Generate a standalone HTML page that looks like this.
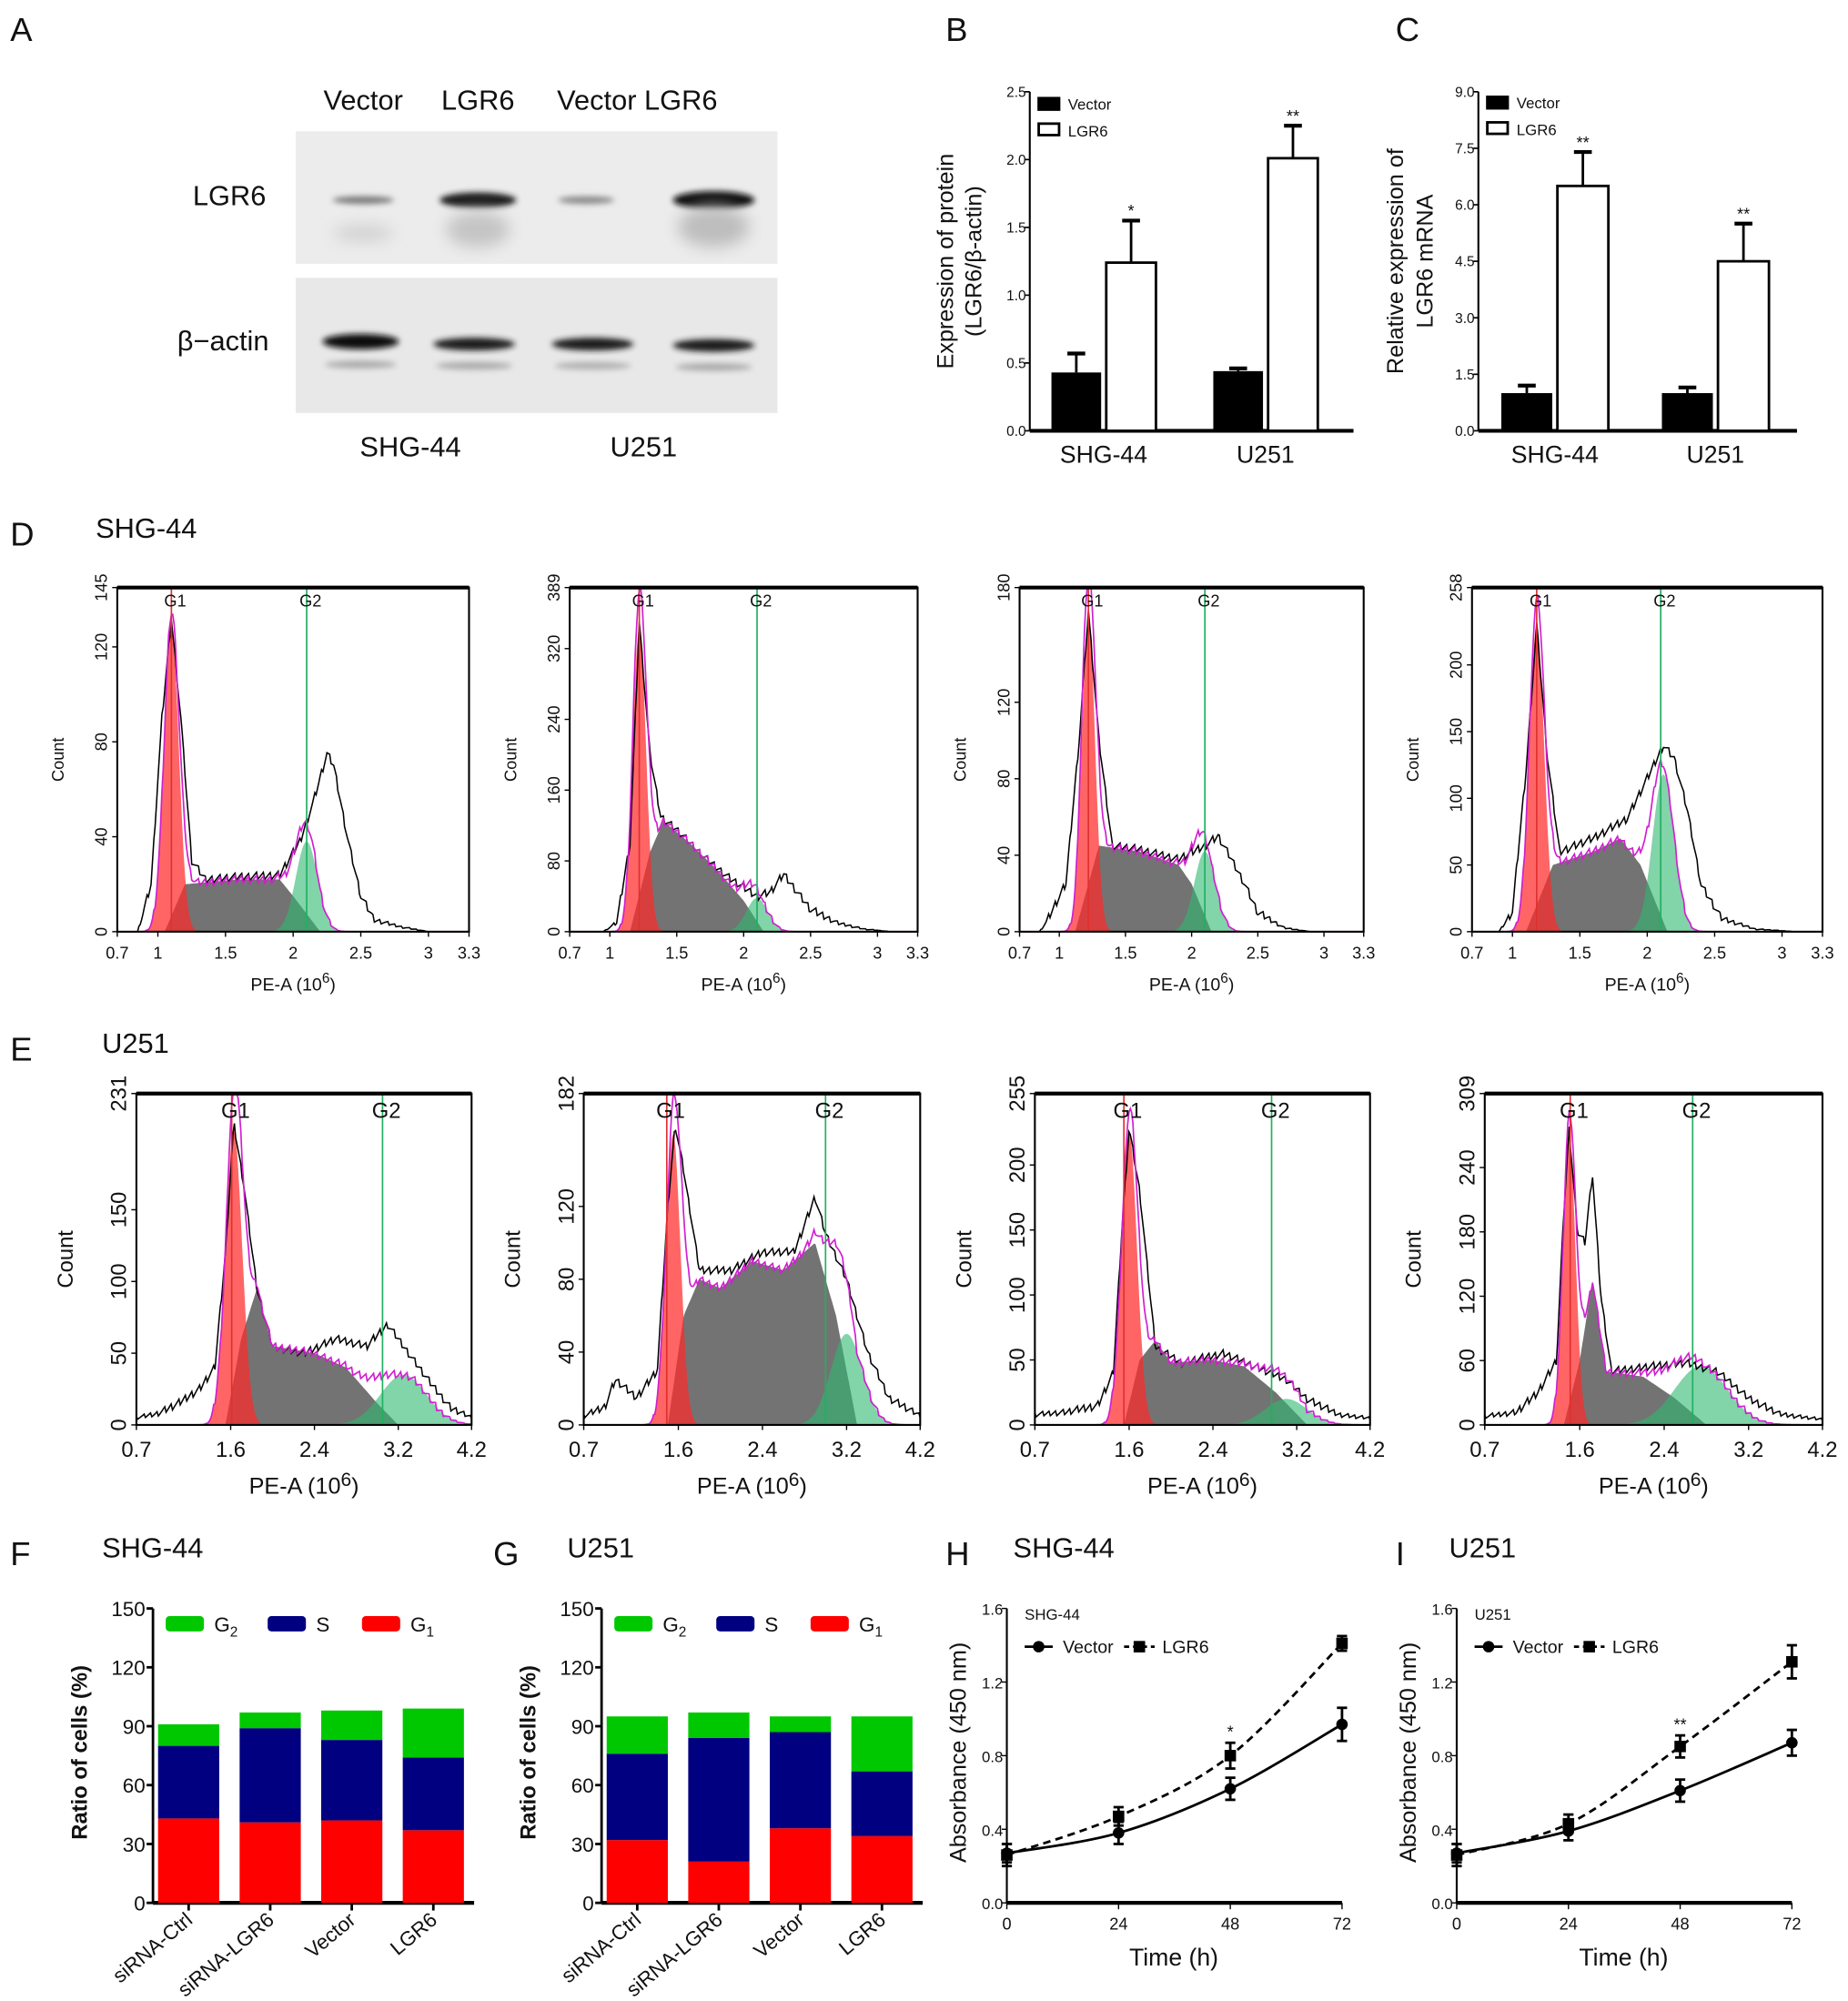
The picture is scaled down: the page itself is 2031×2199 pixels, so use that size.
<!DOCTYPE html>
<html><head><meta charset="utf-8"><style>
html,body{margin:0;padding:0;background:#fff}
svg{display:block}
text{font-family:"Liberation Sans",sans-serif;fill:#111}
</style></head><body>
<svg id="fig" xmlns="http://www.w3.org/2000/svg" width="2031" height="2199" viewBox="0 0 1450 1570">
<defs>
<filter id="blur2" x="-50%" y="-50%" width="200%" height="200%"><feGaussianBlur stdDeviation="2.2"/></filter>
<filter id="blur6" x="-50%" y="-50%" width="200%" height="200%"><feGaussianBlur stdDeviation="6"/></filter>
</defs>
<g>
<text x="8" y="32" font-size="26">A</text>
<text x="285" y="86" font-size="22" text-anchor="middle">Vector</text>
<text x="375" y="86" font-size="22" text-anchor="middle">LGR6</text>
<text x="500" y="86" font-size="22" text-anchor="middle">Vector LGR6</text>
<rect x="232" y="103" width="378" height="104" fill="#ececec"/>
<rect x="232" y="218" width="378" height="106" fill="#e8e8e8"/>
<g filter="url(#blur2)">
<ellipse cx="285" cy="157" rx="24" ry="3" fill="#777"/>
<ellipse cx="375" cy="157" rx="30" ry="6" fill="#1a1a1a"/>
<ellipse cx="460" cy="157" rx="22" ry="3" fill="#888"/>
<ellipse cx="560" cy="157" rx="32" ry="7" fill="#111"/>
<ellipse cx="283" cy="268" rx="30" ry="6" fill="#111"/>
<ellipse cx="372" cy="270" rx="32" ry="5" fill="#1a1a1a"/>
<ellipse cx="465" cy="270" rx="32" ry="5" fill="#1a1a1a"/>
<ellipse cx="560" cy="271" rx="32" ry="5" fill="#1a1a1a"/>
<ellipse cx="283" cy="286" rx="28" ry="3" fill="#aaa"/>
<ellipse cx="372" cy="287" rx="30" ry="3" fill="#aaa"/>
<ellipse cx="465" cy="287" rx="30" ry="3" fill="#b0b0b0"/>
<ellipse cx="560" cy="288" rx="30" ry="3" fill="#aaa"/>
</g>
<g filter="url(#blur6)">
<ellipse cx="285" cy="183" rx="24" ry="6" fill="#cfcfcf"/>
<ellipse cx="375" cy="180" rx="25" ry="14" fill="#c4c4c4"/>
<ellipse cx="560" cy="178" rx="28" ry="16" fill="#bdbdbd"/>
</g>
<text x="180" y="161" font-size="22" text-anchor="middle">LGR6</text>
<text x="175" y="275" font-size="22" text-anchor="middle">β−actin</text>
<text x="322" y="358" font-size="22" text-anchor="middle">SHG-44</text>
<text x="505" y="358" font-size="22" text-anchor="middle">U251</text>
</g>
<g id="dyn"></g>
</svg>
<script>
const bCats = ["SHG-44", "U251"];
const bVector = [0.43, 0.44];
const bVectorErr = [0.14, 0.02];
const bLgr6 = [1.24, 2.01];
const bLgr6Err = [0.31, 0.24];
const bSig = ["*", "**"];
const bTicks = [0, 0.5, 1.0, 1.5, 2.0, 2.5];
const cCats = ["SHG-44", "U251"];
const cVector = [1.0, 1.0];
const cVectorErr = [0.2, 0.15];
const cLgr6 = [6.5, 4.5];
const cLgr6Err = [0.9, 1.0];
const cSig = ["**", "**"];
const cTicks = [0, 1.5, 3.0, 4.5, 6.0, 7.5, 9.0];
const dXTicks = [0.7, 1, 1.5, 2, 2.5, 3, 3.3];
const dXTickLabels = ["0.7", "1", "1.5", "2", "2.5", "3", "3.3"];
const dYMax = [145, 389, 180, 258];
const dYTicks = [[0,40,80,120],[0,80,160,240,320],[0,40,80,120],[0,50,100,150,200]];
const dGateG1 = [1.1, 1.22, 1.22, 1.18];
const dGateG2 = [2.1, 2.1, 2.1, 2.1];
const dG1 = [[1.1,0.055,128],[1.22,0.05,345],[1.22,0.05,165],[1.18,0.055,230]];
const dG2 = [[2.1,0.08,38],[2.1,0.08,38],[2.1,0.08,42],[2.12,0.08,118]];
const dS = [
 [[1.05,0],[1.2,20],[1.6,22],[1.9,22],[2.0,15],[2.2,0]],
 [[1.15,0],[1.3,90],[1.4,125],[1.6,100],[1.8,70],[2.0,35],[2.15,0]],
 [[1.12,0],[1.3,45],[1.6,42],[1.9,35],[2.0,25],[2.15,0]],
 [[1.1,0],[1.3,50],[1.6,60],[1.8,70],[1.95,50],[2.15,0]]];
const dRaw = [
 [[0.85,0],[0.95,20],[1.03,90],[1.1,132],[1.17,90],[1.25,30],[1.35,22],[1.6,23],[1.9,24],[2.05,38],[2.15,55],[2.25,75],[2.3,70],[2.4,40],[2.5,15],[2.6,5],[2.8,2],[3.0,0]],
 [[0.95,0],[1.05,10],[1.15,100],[1.22,350],[1.3,200],[1.38,130],[1.5,115],[1.7,85],[1.9,60],[2.0,50],[2.1,40],[2.2,45],[2.3,65],[2.4,45],[2.5,25],[2.7,10],[2.9,3],[3.1,0]],
 [[0.85,0],[0.9,5],[1.05,25],[1.15,100],[1.22,168],[1.3,100],[1.4,45],[1.6,43],[1.9,38],[2.1,45],[2.2,50],[2.3,38],[2.4,25],[2.5,10],[2.7,2],[2.9,0]],
 [[0.9,0],[1.0,15],[1.1,120],[1.18,230],[1.26,130],[1.35,60],[1.6,70],[1.85,85],[2.0,115],[2.12,140],[2.2,130],[2.3,90],[2.4,35],[2.55,10],[2.8,2],[3.1,0]]];
const eXTicks = [0.7, 1.6, 2.4, 3.2, 3.9];
const eXTickLabels = ["0.7", "1.6", "2.4", "3.2", "4.2"];
const eYMax = [231, 182, 255, 309];
const eYTicks = [[0,50,100,150],[0,40,80,120],[0,50,100,150,200],[0,60,120,180,240]];
const eGateG1 = [1.61, 1.49, 1.55, 1.51];
const eGateG2 = [3.05, 3.0, 2.96, 2.67];
const eG1 = [[1.63,0.08,205],[1.55,0.07,160],[1.6,0.075,225],[1.5,0.06,270]];
const eG2 = [[3.25,0.22,35],[3.2,0.15,50],[3.1,0.2,20],[2.75,0.25,55]];
const eS = [
 [[1.55,0],[1.7,60],[1.85,95],[2.0,55],[2.4,50],[2.7,40],[3.0,15],[3.2,0]],
 [[1.5,0],[1.65,60],[1.8,80],[2.0,75],[2.3,90],[2.6,85],[2.9,100],[3.1,60],[3.3,0]],
 [[1.55,0],[1.7,50],[1.85,65],[2.0,48],[2.4,50],[2.7,45],[3.0,25],[3.3,0]],
 [[1.45,0],[1.6,60],[1.72,135],[1.85,50],[2.2,45],[2.5,25],[2.8,0]]];
const eRaw = [
 [[0.7,5],[0.9,8],[1.1,15],[1.3,25],[1.45,40],[1.55,120],[1.63,210],[1.72,170],[1.85,95],[2.0,55],[2.3,50],[2.6,60],[2.9,55],[3.1,70],[3.3,50],[3.5,30],[3.7,12],[3.9,5]],
 [[0.7,5],[0.9,10],[1.0,25],[1.2,15],[1.4,30],[1.5,120],[1.57,165],[1.65,140],[1.8,85],[2.1,85],[2.4,95],[2.7,95],[2.9,125],[3.0,105],[3.2,80],[3.4,40],[3.6,15],[3.9,5]],
 [[0.7,8],[1.0,10],[1.3,15],[1.45,40],[1.53,150],[1.6,228],[1.7,180],[1.85,60],[2.1,48],[2.5,55],[2.8,45],[3.1,35],[3.3,20],[3.6,8],[3.9,5]],
 [[0.7,8],[1.0,12],[1.2,30],[1.38,60],[1.45,200],[1.5,275],[1.58,180],[1.65,170],[1.72,235],[1.8,120],[1.9,50],[2.3,55],[2.6,58],[2.9,50],[3.2,25],[3.5,10],[3.9,5]]];
const phaseCats = ["siRNA-Ctrl", "siRNA-LGR6", "Vector", "LGR6"];
const phaseTicks = [0, 30, 60, 90, 120, 150];
const fG1 = [43, 41, 42, 37];
const fS = [37, 48, 41, 37];
const fG2 = [11, 8, 15, 25];
const gG1 = [32, 21, 38, 34];
const gS = [44, 63, 49, 33];
const gG2 = [19, 13, 8, 28];
const timePts = [0, 24, 48, 72];
const absTicks = [0.0, 0.4, 0.8, 1.2, 1.6];
const hVector = [0.27, 0.38, 0.62, 0.97];
const hVectorErr = [0.05, 0.06, 0.06, 0.09];
const hLgr6 = [0.26, 0.47, 0.80, 1.41];
const hLgr6Err = [0.06, 0.05, 0.07, 0.04];
const iVector = [0.27, 0.39, 0.61, 0.87];
const iVectorErr = [0.05, 0.05, 0.06, 0.07];
const iLgr6 = [0.26, 0.43, 0.85, 1.31];
const iLgr6Err = [0.06, 0.05, 0.06, 0.09];

const NS = "http://www.w3.org/2000/svg";
const root = document.getElementById("dyn");
function mk(tag, attrs, parent) {
  const el = document.createElementNS(NS, tag);
  for (const k in attrs) el.setAttribute(k, attrs[k]);
  (parent || root).appendChild(el);
  return el;
}
function txt(x, y, s, size, parent, anchor, rot) {
  const t = mk("text", {x: x, y: y, "font-size": size, "text-anchor": anchor || "middle"}, parent);
  if (rot) t.setAttribute("transform", "rotate(" + rot + " " + x + " " + y + ")");
  t.textContent = s;
  return t;
}
function linScale(d0, d1, r0, r1) { return v => r0 + (v - d0) / (d1 - d0) * (r1 - r0); }

function barChart(o) {
  const g = mk("g", {});
  
  
  const y = linScale(0, o.max, o.y0, o.yTop);
  const lbl = txt(o.labelX, 32, o.letter, 26, g, "start");
  
  
  mk("line", {x1: o.ax, y1: o.yTop, x2: o.ax, y2: o.y0, stroke: "#000", "stroke-width": 1.5}, g);
  mk("line", {x1: o.ax, y1: o.y0, x2: o.axEnd, y2: o.y0, stroke: "#000", "stroke-width": 3}, g);
  o.ticks.forEach(t => {
    mk("line", {x1: o.ax - 4, y1: y(t), x2: o.ax, y2: y(t), stroke: "#000", "stroke-width": 1.2}, g);
    const tl = txt(o.ax - 3, y(t) + 4, t.toFixed(1), 11, g, "end");
    
    
  });
  o.cats.forEach((c, i) => {
    const gx = o.groupX[i];
    const bw = o.bw;
    const vx = gx - bw - 2, lx = gx + 2;
    const vb = mk("rect", {x: vx, y: y(o.vec[i]), width: bw, height: o.y0 - y(o.vec[i]), fill: "#000"}, g);
    
    
    const vt = y(o.vec[i] + o.vecErr[i]);
    mk("line", {x1: vx + bw / 2, y1: y(o.vec[i]), x2: vx + bw / 2, y2: vt, stroke: "#000", "stroke-width": 2}, g);
    mk("line", {x1: vx + bw / 2 - 7, y1: vt, x2: vx + bw / 2 + 7, y2: vt, stroke: "#000", "stroke-width": 3}, g);
    const lb = mk("rect", {x: lx, y: y(o.lgr[i]), width: bw, height: o.y0 - y(o.lgr[i]), fill: "#fff", stroke: "#000", "stroke-width": 2}, g);
    
    
    const lt = y(o.lgr[i] + o.lgrErr[i]);
    mk("line", {x1: lx + bw / 2, y1: y(o.lgr[i]), x2: lx + bw / 2, y2: lt, stroke: "#000", "stroke-width": 2}, g);
    mk("line", {x1: lx + bw / 2 - 7, y1: lt, x2: lx + bw / 2 + 7, y2: lt, stroke: "#000", "stroke-width": 3}, g);
    const st = txt(lx + bw / 2, lt - 3, o.sig[i], 13, g);
    
    
    const cl = txt(gx, o.y0 + 25, c, 19, g);
    
    
  });
  const lg = mk("g", {}, g);
  
  
  mk("rect", {x: o.ax + 6, y: o.legY - 7, width: 18, height: 11, fill: "#000"}, lg);
  txt(o.ax + 30, o.legY + 3, "Vector", 12, lg, "start");
  mk("rect", {x: o.ax + 7, y: o.legY + 14, width: 16, height: 9, fill: "#fff", stroke: "#000", "stroke-width": 2}, lg);
  txt(o.ax + 30, o.legY + 24, "LGR6", 12, lg, "start");
  o.titles.forEach((tt, k) => {
    const ti = txt(o.titleX[k], (o.y0 + o.yTop) / 2, tt, 18, g, "middle", -90);
    
    
  });
}
barChart({name: "panel-b-protein-chart", letter: "B", labelX: 742, ax: 808, axEnd: 1062, y0: 338, yTop: 72, max: 2.5,
  ticks: bTicks, cats: bCats, vec: bVector, vecErr: bVectorErr, lgr: bLgr6, lgrErr: bLgr6Err, sig: bSig,
  groupX: [866, 993], bw: 39, legY: 83, titles: ["Expression of protein", "(LGR6/β-actin)"], titleX: [748, 770]});
barChart({name: "panel-c-mrna-chart", letter: "C", labelX: 1095, ax: 1160, axEnd: 1410, y0: 338, yTop: 72, max: 9.0,
  ticks: cTicks, cats: cCats, vec: cVector, vecErr: cVectorErr, lgr: cLgr6, lgrErr: cLgr6Err, sig: cSig,
  groupX: [1220, 1346], bw: 40, legY: 82, titles: ["Relative expression of", "LGR6 mRNA"], titleX: [1101, 1124]});

function gauss(p, x) { return p[2] * Math.exp(-Math.pow(x - p[0], 2) / (2 * p[1] * p[1])); }
function interp(pts, x) {
  if (x <= pts[0][0] || x >= pts[pts.length - 1][0]) return 0;
  for (let i = 1; i < pts.length; i++) if (x <= pts[i][0]) {
    const a = pts[i - 1], b = pts[i];
    return a[1] + (b[1] - a[1]) * (x - a[0]) / (b[0] - a[0]);
  }
  return 0;
}
function interpRaw(pts, x) {
  if (x < pts[0][0]) return 0;
  if (x > pts[pts.length - 1][0]) return pts[pts.length - 1][1];
  return interp([[pts[0][0]-1e-9, pts[0][1]]].concat(pts).concat([[pts[pts.length-1][0]+1e-9, 0]]), x);
}
function jitter(i) { return (((i * 7919 + 13) * 104729) % 97) / 97 - 0.5; }
function flow(o, idx) {
  const g = mk("g", {});
  
  
  const x = linScale(o.xd[0], o.xd[1], o.x0, o.x1);
  const y = linScale(0, o.ymax, o.y1, o.y0);
  const step = (o.xd[1] - o.xd[0]) / 260;
  const xs = [];
  for (let v = o.xd[0]; v <= o.xd[1] + 1e-9; v += step) xs.push(v);
  const area = (f, fill, op, nm) => {
    let d = "M" + x(xs[0]) + " " + o.y1;
    xs.forEach(v => { d += "L" + x(v).toFixed(1) + " " + y(Math.min(f(v), o.ymax)).toFixed(1); });
    d += "L" + x(xs[xs.length - 1]) + " " + o.y1 + "Z";
    const p = mk("path", {d: d, fill: fill, "fill-opacity": op}, g);
    
    
  };
  const line = (f, col, w, nm, jit) => {
    let d = "";
    xs.forEach((v, i) => { const yy = Math.max(0, f(v) + (jit ? jitter(i) * o.ymax * 0.025 * Math.min(1, f(v) / (o.ymax * 0.05)) : 0)); d += (i ? "L" : "M") + x(v).toFixed(1) + " " + y(Math.min(yy, o.ymax)).toFixed(1); });
    const p = mk("path", {d: d, fill: "none", stroke: col, "stroke-width": w}, g);
    
    
  };
  area(v => interp(o.s, v), "#5a5a5a", 0.85, "s-phase-fill");
  area(v => gauss(o.g2, v), "#2fb870", 0.6, "g2-phase-fill");
  area(v => gauss(o.g1, v), "#ff2a2a", 0.72, "g1-phase-fill");
  line(v => interpRaw(o.raw, v), "#000", 1.1, "raw-histogram-line", 1);
  line(v => gauss(o.g1, v) + gauss(o.g2, v) + interp(o.s, v), "#d020d0", 1.2, "model-fit-line", 1);
  [["G1", o.gate1, "#e03030"], ["G2", o.gate2, "#20b060"]].forEach(gt => {
    mk("line", {x1: x(gt[1]), y1: o.y0, x2: x(gt[1]), y2: o.y1, stroke: gt[2], "stroke-width": 1.2}, g);
    const gl = txt(x(gt[1]) + 3, o.y0 + o.gateFs + 2, gt[0], o.gateFs, g);
    
    
  });
  mk("rect", {x: o.x0, y: o.y0, width: o.x1 - o.x0, height: o.y1 - o.y0, fill: "none", stroke: "#000", "stroke-width": 1.5}, g);
  mk("line", {x1: o.x0, y1: o.y0, x2: o.x1, y2: o.y0, stroke: "#000", "stroke-width": 3}, g);
  o.xticks.forEach((t, k) => {
    mk("line", {x1: x(t), y1: o.y1, x2: x(t), y2: o.y1 + 4, stroke: "#000"}, g);
    const tl = txt(x(t), o.y1 + o.tfs + 8, o.xlabels[k], o.tfs, g);
    
    
  });
  o.yticks.concat([o.ymax]).forEach(t => {
    mk("line", {x1: o.x0 - 4, y1: y(t), x2: o.x0, y2: y(t), stroke: "#000"}, g);
    const tl = txt(o.x0 - 8, y(t), String(t), o.tfs, g, "middle", -90);
    
    
  });
  const xt = txt((o.x0 + o.x1) / 2, o.y1 + o.tfs * 2 + 20, "PE-A  (10", o.tfs + 1, g);
  const sup = document.createElementNS(NS, "tspan");
  sup.setAttribute("dy", -6); sup.setAttribute("font-size", o.tfs - 2); sup.textContent = "6";
  xt.appendChild(sup);
  const cl = document.createElementNS(NS, "tspan"); cl.setAttribute("dy", 6); cl.textContent = ")"; xt.appendChild(cl);
  
  
  const yt = txt(o.x0 - o.tfs * 2 - 16, (o.y0 + o.y1) / 2, "Count", o.tfs, g, "middle", -90);
  
  
}
const dX = [[92, 368], [447, 720], [800, 1070], [1155, 1430]];
for (let i = 0; i < 4; i++) flow({name: "flow-shg44-" + (i + 1), xd: [0.7, 3.3], x0: dX[i][0], x1: dX[i][1], y0: 461, y1: 731,
  ymax: dYMax[i], yticks: dYTicks[i], xticks: dXTicks, xlabels: dXTickLabels, g1: dG1[i], g2: dG2[i], s: dS[i], raw: dRaw[i],
  gate1: dGateG1[i], gate2: dGateG2[i], tfs: 13, gateFs: 13}, i);
const eX = [[107, 370], [458, 722], [812, 1075], [1165, 1430]];
for (let i = 0; i < 4; i++) flow({name: "flow-u251-" + (i + 1), xd: [0.7, 3.9], x0: eX[i][0], x1: eX[i][1], y0: 858, y1: 1118,
  ymax: eYMax[i], yticks: eYTicks[i], xticks: eXTicks, xlabels: eXTickLabels, g1: eG1[i], g2: eG2[i], s: eS[i], raw: eRaw[i],
  gate1: eGateG1[i], gate2: eGateG2[i], tfs: 17, gateFs: 17}, i);
[["D", 8, 428, "SHG-44", 75, 422], ["E", 8, 832, "U251", 80, 826], ["F", 8, 1228, "SHG-44", 80, 1222], ["G", 387, 1228, "U251", 445, 1222],
 ["H", 742, 1228, "SHG-44", 795, 1222], ["I", 1095, 1228, "U251", 1137, 1222]].forEach(r => {
  const a = txt(r[1], r[2], r[0], 26, root, "start");
  
  
  const b = txt(r[4], r[5], r[3], 22, root, "start");
  
  
});

function stacked(o) {
  const g = mk("g", {});
  
  
  const y = linScale(0, 150, 1493, 1262);
  mk("line", {x1: o.ax, y1: 1262, x2: o.ax, y2: 1493, stroke: "#000", "stroke-width": 2}, g);
  mk("line", {x1: o.ax, y1: 1493, x2: o.ax + 252, y2: 1493, stroke: "#000", "stroke-width": 3}, g);
  phaseTicks.forEach(t => {
    mk("line", {x1: o.ax - 5, y1: y(t), x2: o.ax, y2: y(t), stroke: "#000", "stroke-width": 2}, g);
    const tl = txt(o.ax - 6, y(t) + 6, String(t), 16, g, "end");
    
    
  });
  phaseCats.forEach((c, i) => {
    const cx = o.ax + 28 + i * 64, bw = 48;
    let base = 0;
    [[o.g1[i], "#ff0000", "g1"], [o.s[i], "#000080", "s"], [o.g2[i], "#00c800", "g2"]].forEach(seg => {
      const r = mk("rect", {x: cx - bw / 2, y: y(base + seg[0]), width: bw, height: y(base) - y(base + seg[0]), fill: seg[1]}, g);
      
      
      base += seg[0];
    });
    mk("line", {x1: cx, y1: 1493, x2: cx, y2: 1499, stroke: "#000", "stroke-width": 2}, g);
    const cl = txt(cx + 4, 1508, c, 16, g, "end", -40);
    
    
  });
  const lg = mk("g", {}, g);
  
  
  [["#00c800", "G", "2", 10], ["#000080", "S", "", 90], ["#ff0000", "G", "1", 164]].forEach(l => {
    mk("rect", {x: o.ax + l[3], y: 1268, width: 30, height: 12, rx: 3, fill: l[0]}, lg);
    const t = txt(o.ax + l[3] + 38, 1280, l[1], 16, lg, "start");
    if (l[2]) { const s = document.createElementNS(NS, "tspan"); s.setAttribute("dy", 4); s.setAttribute("font-size", 11); s.textContent = l[2]; t.appendChild(s); }
  });
  const yt = txt(o.ax - 52, 1375, "Ratio of cells (%)", 17, g, "middle", -90);
  
  
  yt.setAttribute("font-weight", "bold");
}
stacked({name: "panel-f-cell-cycle-shg44", ax: 120, g1: fG1, s: fS, g2: fG2});
stacked({name: "panel-g-cell-cycle-u251", ax: 472, g1: gG1, s: gS, g2: gG2});

function smoothPath(pts) {
  let d = "M" + pts[0][0] + " " + pts[0][1];
  for (let i = 0; i < pts.length - 1; i++) {
    const p0 = pts[Math.max(0, i - 1)], p1 = pts[i], p2 = pts[i + 1], p3 = pts[Math.min(pts.length - 1, i + 2)];
    d += "C" + (p1[0] + (p2[0] - p0[0]) / 6) + " " + (p1[1] + (p2[1] - p0[1]) / 6) + " " + (p2[0] - (p3[0] - p1[0]) / 6) + " " + (p2[1] - (p3[1] - p1[1]) / 6) + " " + p2[0] + " " + p2[1];
  }
  return d;
}
function growth(o) {
  const g = mk("g", {});
  
  
  const x = linScale(0, 72, o.ax, o.ax + 263);
  const y = linScale(0, 1.6, 1493, 1262);
  mk("line", {x1: o.ax, y1: 1262, x2: o.ax, y2: 1493, stroke: "#000", "stroke-width": 1.5}, g);
  mk("line", {x1: o.ax, y1: 1493, x2: o.ax + 263, y2: 1493, stroke: "#000", "stroke-width": 3}, g);
  absTicks.forEach(t => {
    mk("line", {x1: o.ax - 4, y1: y(t), x2: o.ax, y2: y(t), stroke: "#000"}, g);
    const tl = txt(o.ax - 3, y(t) + 5, t.toFixed(1), 12, g, "end");
    
    
  });
  timePts.forEach(t => {
    mk("line", {x1: x(t), y1: 1493, x2: x(t), y2: 1498, stroke: "#000"}, g);
    const tl = txt(x(t), 1514, String(t), 13, g);
    
    
  });
  [[o.vec, o.vecErr, "", "vector", "circle"], [o.lgr, o.lgrErr, "6 4", "lgr6", "square"]].forEach(s => {
    const pts = timePts.map((t, i) => [x(t), y(s[0][i])]);
    const p = mk("path", {d: smoothPath(pts), fill: "none", stroke: "#000", "stroke-width": 2, "stroke-dasharray": s[2]}, g);
    
    
    timePts.forEach((t, i) => {
      const yt = y(s[0][i] + s[1][i]), yb = y(s[0][i] - s[1][i]);
      mk("line", {x1: x(t), y1: yt, x2: x(t), y2: yb, stroke: "#000", "stroke-width": 2}, g);
      mk("line", {x1: x(t) - 4, y1: yt, x2: x(t) + 4, y2: yt, stroke: "#000", "stroke-width": 2}, g);
      mk("line", {x1: x(t) - 4, y1: yb, x2: x(t) + 4, y2: yb, stroke: "#000", "stroke-width": 2}, g);
      const m = s[4] === "circle" ? mk("circle", {cx: x(t), cy: y(s[0][i]), r: 4.5, fill: "#000"}, g)
        : mk("rect", {x: x(t) - 4.5, y: y(s[0][i]) - 4.5, width: 9, height: 9, fill: "#000"}, g);
      
      
    });
  });
  const sg = txt(x(48), y(o.lgr[2] + o.lgrErr[2]) - 4, o.sig, 13, g);
  
  
  const st = txt(o.ax + 14, 1271, o.sub, 12, g, "start");
  
  
  const lg = mk("g", {}, g);
  
  
  mk("line", {x1: o.ax + 14, y1: 1292, x2: o.ax + 36, y2: 1292, stroke: "#000", "stroke-width": 2}, lg);
  mk("circle", {cx: o.ax + 25, cy: 1292, r: 4.5, fill: "#000"}, lg);
  txt(o.ax + 44, 1297, "Vector", 14, lg, "start");
  mk("line", {x1: o.ax + 92, y1: 1292, x2: o.ax + 116, y2: 1292, stroke: "#000", "stroke-width": 2, "stroke-dasharray": "4 3"}, lg);
  mk("rect", {x: o.ax + 99.5, y: 1287.5, width: 9, height: 9, fill: "#000"}, lg);
  txt(o.ax + 122, 1297, "LGR6", 14, lg, "start");
  const yt = txt(o.ax - 32, 1375, "Absorbance (450 nm)", 18, g, "middle", -90);
  
  
  const xt = txt(o.ax + 131, 1542, "Time (h)", 19, g);
  
  
}
growth({name: "panel-h-growth-shg44", ax: 790, vec: hVector, vecErr: hVectorErr, lgr: hLgr6, lgrErr: hLgr6Err, sig: "*", sub: "SHG-44"});
growth({name: "panel-i-growth-u251", ax: 1143, vec: iVector, vecErr: iVectorErr, lgr: iLgr6, lgrErr: iLgr6Err, sig: "**", sub: "U251"});
</script>
</body></html>
